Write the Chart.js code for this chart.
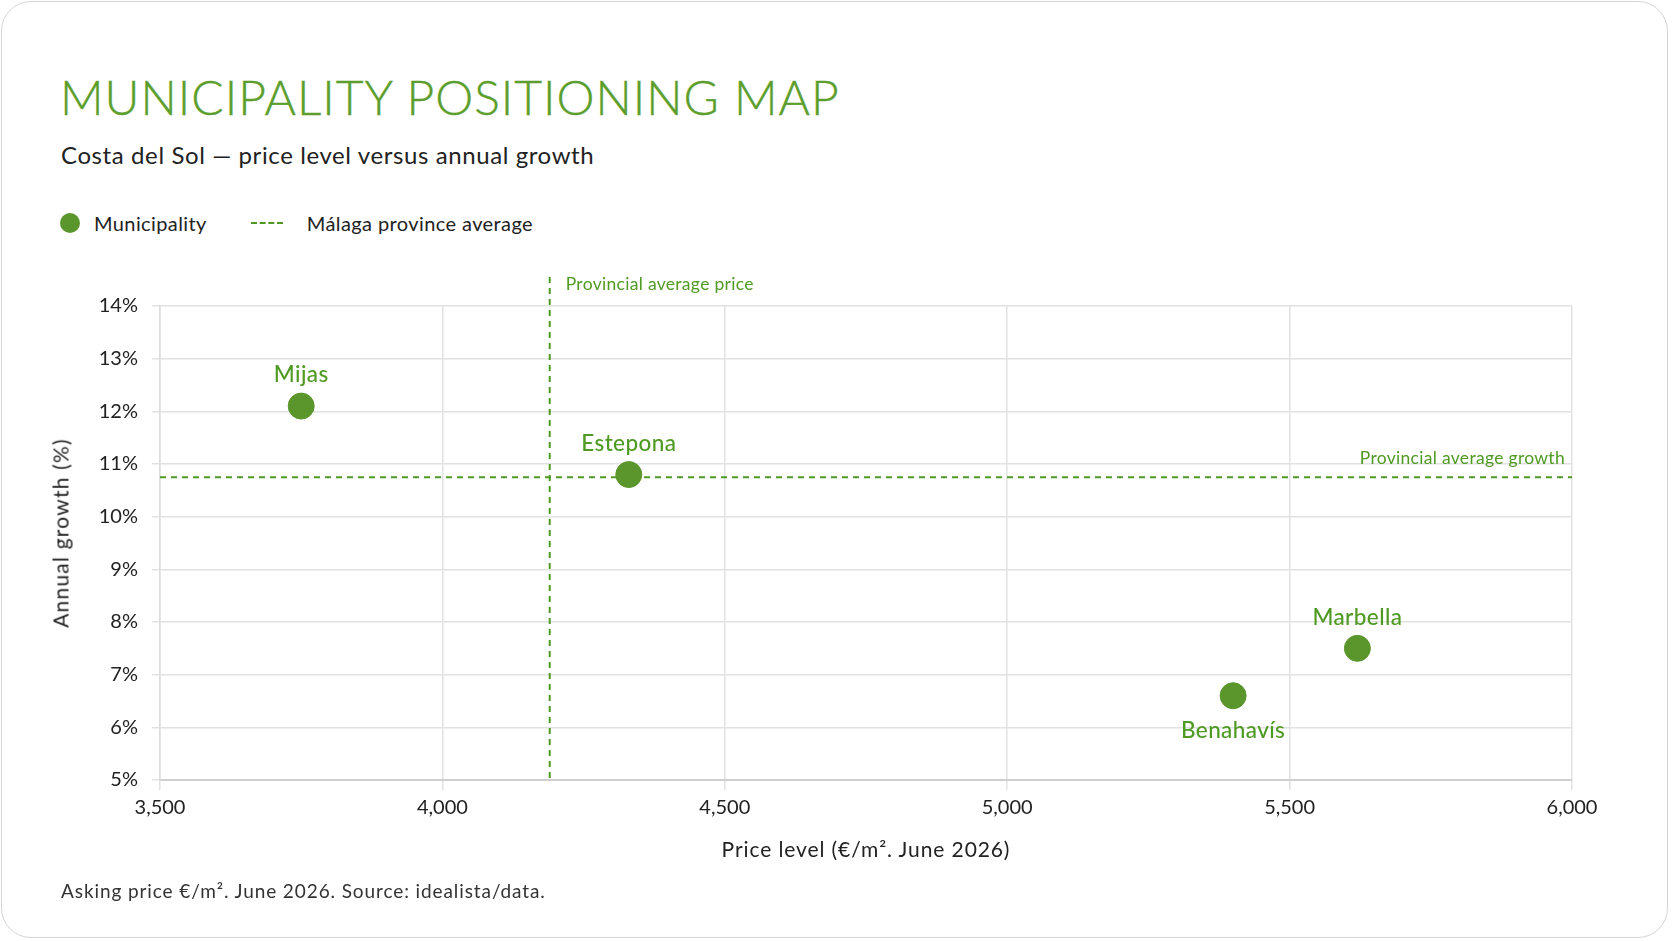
<!DOCTYPE html>
<html lang="en">
<head>
    <meta charset="UTF-8">
    <title>Municipality Positioning Map</title>
    <script src="https://cdn.jsdelivr.net/npm/chart.js"></script>
    <style>
        html, body { margin: 0; padding: 0; background: #ffffff; }
        body { width: 1672px; height: 941px; position: relative; overflow: hidden; font-family: Lato, "Open Sans", sans-serif; }
        .card { position: absolute; left: 1px; top: 1px; width: 1667px; height: 937px; border: 1px solid #d4d4d4; border-radius: 30px; box-sizing: border-box; }
        .title { position: absolute; left: 60px; top: 68px; font-size: 48px; font-weight: 300; color: #5b9e2c; letter-spacing: 1px; white-space: nowrap; -webkit-text-stroke: 0.4px #5b9e2c; }
        .subtitle { position: absolute; left: 61px; top: 140px; font-size: 24px; color: #222; letter-spacing: 0.6px; white-space: nowrap; }
        .legend { position: absolute; left: 60px; top: 211px; font-size: 20px; color: #222; letter-spacing: 0.4px; display: flex; align-items: center; }
        .legend .dot { width: 20px; height: 20px; border-radius: 50%; background: #5b962c; margin-right: 14px; }
        .legend .dash { width: 32px; border-top: 2px dashed #4f9a22; margin-left: 44px; margin-right: 24px; }
        .xtitle { position: absolute; left: 160px; width: 1412px; top: 836px; text-align: center; font-size: 21px; letter-spacing: 0.9px; color: #222; }
        .ytitle { position: absolute; left: 60px; top: 533px; font-size: 21px; letter-spacing: 1.2px; color: #222; transform: translate(-50%, -50%) rotate(-90deg); white-space: nowrap; }
        .note { position: absolute; left: 61px; top: 879px; font-size: 19px; letter-spacing: 0.9px; color: #333; white-space: nowrap; }
        #wrap { position: absolute; left: 0; top: 0; width: 1672px; height: 941px; }
    </style>
</head>
<body>
    <div class="card"></div>
    <div class="title">MUNICIPALITY POSITIONING MAP</div>
    <div class="subtitle">Costa del Sol — price level versus annual growth</div>
    <div class="legend">
        <span class="dot"></span><span>Municipality</span>
        <span class="dash"></span><span>Málaga province average</span>
    </div>
    <div id="wrap"><canvas id="chart"></canvas></div>
    <div class="xtitle">Price level (€/m². June 2026)</div>
    <div class="ytitle">Annual growth (%)</div>
    <div class="note">Asking price €/m². June 2026. Source: idealista/data.</div>

    <script>
        // Data
        const municipalities = ['Mijas', 'Estepona', 'Benahavís', 'Marbella'];
        const prices = [3750, 4330, 5400, 5620];
        const growth = [12.1, 10.8, 6.6, 7.5];
        const labelBelow = [false, false, true, false];

        const avgPrice = 4190;
        const avgGrowth = 10.75;

        const xTicks = [3500, 4000, 4500, 5000, 5500, 6000];
        const yTicks = [5, 6, 7, 8, 9, 10, 11, 12, 13, 14];

        const green = '#4f9a22';
        const pointGreen = '#5b962c';

        // Dashed province-average lines plus their captions
        const averageLines = {
            id: 'averageLines',
            beforeDatasetsDraw(chart) {
                const { ctx, chartArea, scales } = chart;
                const x = scales.x.getPixelForValue(avgPrice);
                const y = scales.y.getPixelForValue(avgGrowth);
                ctx.save();
                ctx.strokeStyle = green;
                ctx.lineWidth = 2;
                ctx.setLineDash([6, 5]);
                ctx.beginPath();
                ctx.moveTo(chartArea.left, y);
                ctx.lineTo(chartArea.right, y);
                ctx.moveTo(x, chartArea.top - 29);
                ctx.lineTo(x, chartArea.bottom);
                ctx.stroke();
                ctx.setLineDash([]);
                ctx.fillStyle = green;
                ctx.font = '17.5px Lato';
                ctx.letterSpacing = '0.3px';
                ctx.textBaseline = 'middle';
                ctx.textAlign = 'left';
                ctx.fillText('Provincial average price', x + 16, chartArea.top - 22);
                ctx.textAlign = 'right';
                ctx.fillText('Provincial average growth', chartArea.right - 7, y - 19);
                ctx.restore();
            }
        };

        // Municipality names next to each point
        const pointLabels = {
            id: 'pointLabels',
            afterDatasetsDraw(chart) {
                const { ctx } = chart;
                const meta = chart.getDatasetMeta(0);
                ctx.save();
                ctx.fillStyle = green;
                ctx.font = '500 22.5px Lato';
                ctx.letterSpacing = '0.4px';
                ctx.textAlign = 'center';
                ctx.textBaseline = 'middle';
                meta.data.forEach((pt, i) => {
                    const dy = labelBelow[i] ? 35 : -31;
                    ctx.fillText(municipalities[i], pt.x, pt.y + dy);
                });
                ctx.restore();
            }
        };

        new Chart(document.getElementById('chart'), {
            type: 'scatter',
            data: {
                datasets: [{
                    label: 'Municipality',
                    data: prices.map((p, i) => ({ x: p, y: growth[i] })),
                    backgroundColor: pointGreen,
                    borderColor: pointGreen,
                    pointRadius: 13,
                    pointHoverRadius: 13
                }]
            },
            options: {
                responsive: true,
                maintainAspectRatio: false,
                animation: false,
                layout: { padding: { top: 306, right: 100, left: 0, bottom: 81 } },
                plugins: {
                    legend: { display: false },
                    tooltip: { enabled: false }
                },
                scales: {
                    x: {
                        type: 'linear',
                        min: 3500,
                        max: 6000,
                        afterFit(scale) { scale.height = 80; },
                        afterBuildTicks(scale) { scale.ticks = xTicks.map(v => ({ value: v })); },
                        ticks: {
                            padding: 6,
                            color: '#222',
                            font: { family: 'Lato', size: 20 },
                            callback: v => v.toLocaleString('en-US')
                        },
                        grid: { color: '#e2e2e2', lineWidth: 1.5, tickLength: 10 },
                        border: { color: '#cfcfcf', width: 2 }
                    },
                    y: {
                        type: 'linear',
                        min: 5,
                        max: 14,
                        afterFit(scale) { scale.width = 160; },
                        afterBuildTicks(scale) { scale.ticks = yTicks.map(v => ({ value: v })); },
                        ticks: {
                            padding: 14,
                            color: '#222',
                            font: { family: 'Lato', size: 20 },
                            callback: v => v + '%'
                        },
                        grid: { color: '#e2e2e2', lineWidth: 1.5, tickLength: 8 },
                        border: { color: '#dcdcdc', width: 1.5 }
                    }
                }
            },
            plugins: [averageLines, pointLabels]
        });
    </script>
</body>
</html>
